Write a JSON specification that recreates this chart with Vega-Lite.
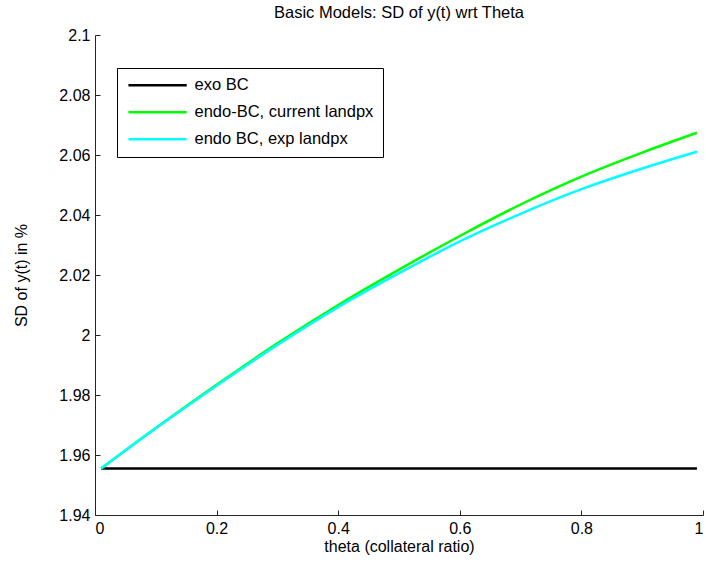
{
  "$schema": "https://vega.github.io/schema/vega-lite/v6.json",
  "width": 608,
  "height": 480,
  "autosize": {"type": "none"},
  "padding": {"left": 95, "top": 35, "right": 3, "bottom": 50},
  "background": "white",
  "title": {"text": "Basic Models: SD of y(t) wrt Theta", "anchor": "middle", "font": "Liberation Sans", "fontSize": 16.5, "fontWeight": "normal", "color": "black", "offset": 6},
  "config": {
    "view": {"stroke": null},
    "axis": {"grid": false, "domainColor": "#262626", "tickColor": "#262626", "labelFont": "Liberation Sans", "labelFontSize": 16, "labelColor": "black", "titleFont": "Liberation Sans", "titleFontSize": 16, "titleFontWeight": "normal", "titleColor": "black", "tickSize": -5, "labelPadding": 10}
  },
  "data": {"values": [
    {"theta": 0.01, "sd": 1.9555, "series": "exo BC"},
    {"theta": 0.99, "sd": 1.9555, "series": "exo BC"},
    {"theta": 0.01, "sd": 1.9555, "series": "endo-BC, current landpx"},
    {"theta": 0.1, "sd": 1.969, "series": "endo-BC, current landpx"},
    {"theta": 0.2, "sd": 1.9834, "series": "endo-BC, current landpx"},
    {"theta": 0.3, "sd": 1.9972, "series": "endo-BC, current landpx"},
    {"theta": 0.4, "sd": 2.01, "series": "endo-BC, current landpx"},
    {"theta": 0.5, "sd": 2.0218, "series": "endo-BC, current landpx"},
    {"theta": 0.6, "sd": 2.033, "series": "endo-BC, current landpx"},
    {"theta": 0.7, "sd": 2.0435, "series": "endo-BC, current landpx"},
    {"theta": 0.8, "sd": 2.0528, "series": "endo-BC, current landpx"},
    {"theta": 0.9, "sd": 2.0608, "series": "endo-BC, current landpx"},
    {"theta": 0.99, "sd": 2.0674, "series": "endo-BC, current landpx"},
    {"theta": 0.01, "sd": 1.9555, "series": "endo BC, exp landpx"},
    {"theta": 0.1, "sd": 1.9689, "series": "endo BC, exp landpx"},
    {"theta": 0.2, "sd": 1.9831, "series": "endo BC, exp landpx"},
    {"theta": 0.3, "sd": 1.9967, "series": "endo BC, exp landpx"},
    {"theta": 0.4, "sd": 2.0093, "series": "endo BC, exp landpx"},
    {"theta": 0.5, "sd": 2.0206, "series": "endo BC, exp landpx"},
    {"theta": 0.6, "sd": 2.0312, "series": "endo BC, exp landpx"},
    {"theta": 0.7, "sd": 2.0404, "series": "endo BC, exp landpx"},
    {"theta": 0.8, "sd": 2.0486, "series": "endo BC, exp landpx"},
    {"theta": 0.9, "sd": 2.0555, "series": "endo BC, exp landpx"},
    {"theta": 0.99, "sd": 2.0611, "series": "endo BC, exp landpx"}
  ]},
  "mark": {"type": "line", "strokeWidth": 2.5, "interpolate": "monotone"},
  "encoding": {
    "x": {"field": "theta", "type": "quantitative", "scale": {"domain": [0, 1], "nice": false}, "axis": {"title": "theta (collateral ratio)", "values": [0, 0.2, 0.4, 0.6, 0.8, 1], "labelExpr": "format(datum.value, '~g')", "titlePadding": 2}},
    "y": {"field": "sd", "type": "quantitative", "scale": {"domain": [1.94, 2.1], "zero": false, "nice": false}, "axis": {"title": "SD of y(t) in %", "values": [1.94, 1.96, 1.98, 2.0, 2.02, 2.04, 2.06, 2.08, 2.1], "labelExpr": "format(datum.value, '.3~f')", "titlePadding": 29}},
    "color": {"field": "series", "type": "nominal", "sort": null, "scale": {"domain": ["exo BC", "endo-BC, current landpx", "endo BC, exp landpx"], "range": ["#000000", "#00ff00", "#00ffff"]},
      "legend": {"title": null, "orient": "none", "legendX": 22, "legendY": 33, "strokeColor": "black", "fillColor": "white", "padding": 9, "symbolType": "M-1,0H9", "symbolSize": 136, "symbolStrokeWidth": 2.5, "labelOffset": 52, "labelFont": "Liberation Sans", "labelFontSize": 16.5, "labelLimit": 400, "labelColor": "black", "rowPadding": 10, "cornerRadius": 0}}
  }
}
